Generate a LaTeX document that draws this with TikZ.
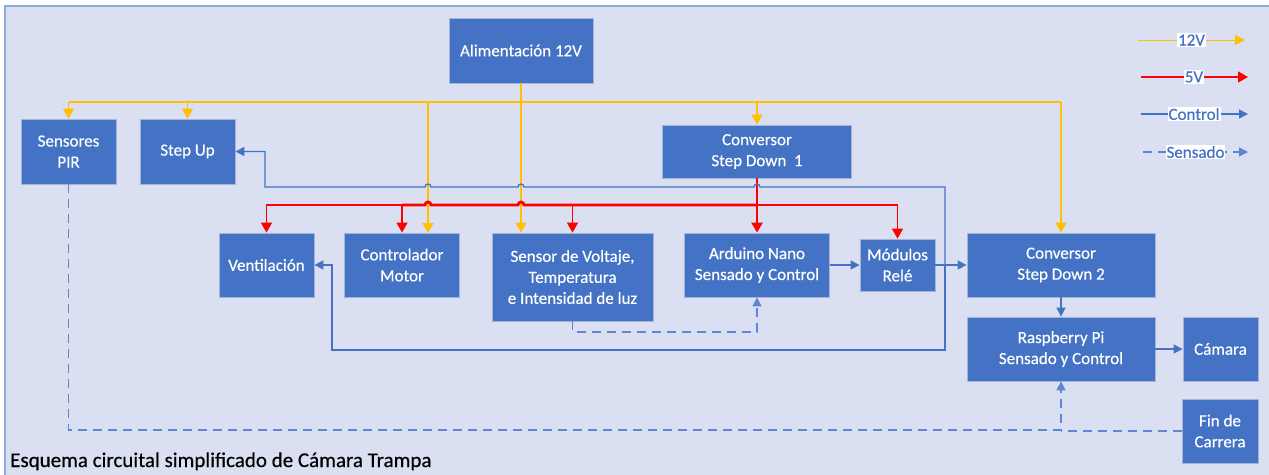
\documentclass[tikz,border=0pt]{standalone}
\usepackage{fontspec}
\setmainfont{Carlito}
\newfontfamily\heavyfont[FakeBold=0.35]{Carlito}
\usetikzlibrary{arrows.meta}
\definecolor{bg}{HTML}{DAE0F2}
\definecolor{frameb}{HTML}{8FAADC}
\definecolor{boxfill}{HTML}{4472C4}
\definecolor{boxline}{HTML}{A3B4DA}
\definecolor{ylw}{HTML}{FFC000}
\definecolor{rd}{HTML}{FF0000}
\definecolor{ctlc}{HTML}{4472C4}
\definecolor{senc}{HTML}{5F86D0}
\begin{document}
\begin{tikzpicture}[x=1pt,y=-1pt,
 blk/.style={draw=boxline,line width=0.8pt,fill=boxfill,text=white,font=\heavyfont\fontsize{17}{21}\selectfont,align=center,inner sep=0pt},
 yl/.style={draw=ylw,line width=1.5pt},
 ya/.style={yl,-{Triangle[length=10pt,width=11pt]}},
 r5/.style={draw=rd,line width=1.5pt},
 ra/.style={r5,-{Triangle[length=10pt,width=11pt]}},
 ct/.style={draw=ctlc,line width=1.3pt},
 ca/.style={ct,-{Triangle[length=9pt,width=9pt]}},
 sn/.style={draw=senc,line width=1.5pt,dash pattern=on 9pt off 6pt},
 sa/.style={sn,-{Triangle[length=9pt,width=9pt]}},
 leg/.style={fill=white,text=ctlc,font=\heavyfont\fontsize{17}{20}\selectfont,inner sep=1pt}
]
\useasboundingbox (0,0) rectangle (1269,474);
\fill[white] (0,0) rectangle (1269,474);
\draw[fill=bg,draw=frameb,line width=2pt] (5,6) rectangle (1285,495);

% boxes
\node[blk,minimum width=144pt,minimum height=65pt] (ali) at (521,50.5) {Alimentación 12V};
\node[blk,minimum width=95pt,minimum height=65pt] (pir) at (68.5,151.5) {Sensores\\PIR};
\node[blk,minimum width=95pt,minimum height=65pt] (stepup) at (187.5,151.5) {Step Up};
\node[blk,minimum width=189pt,minimum height=53pt] (sd1) at (757,151.5) {Conversor\\Step Down\ \ 1};
\node[blk,minimum width=95pt,minimum height=64pt] (vent) at (266.5,265) {Ventilación};
\node[blk,minimum width=115pt,minimum height=64pt] (ctrl) at (402,265) {Controlador\\Motor};
\node[blk,minimum width=161pt,minimum height=88pt] (sensor) at (572.5,277) {Sensor de Voltaje,\\Temperatura\\e Intensidad de luz};
\node[blk,minimum width=145pt,minimum height=64pt] (ard) at (757,265) {Arduino Nano\\Sensado y Control};
\node[blk,minimum width=75pt,minimum height=52pt] (rele) at (897.5,265) {Módulos\\Relé};
\node[blk,minimum width=188pt,minimum height=64pt] (sd2) at (1061,265) {Conversor\\Step Down 2};
\node[blk,minimum width=188pt,minimum height=64pt] (rpi) at (1061,349) {Raspberry Pi\\Sensado y Control};
\node[blk,minimum width=75pt,minimum height=64pt] (cam) at (1220.5,349) {Cámara};
\node[blk,minimum width=76pt,minimum height=64pt] (fin) at (1220,431) {Fin de\\Carrera};

% 12V lines
\draw[yl] (68.5,102) -- (1061,102);
\draw[ya] (ali.south) -- (ali.south |- sensor.north);
\draw[ya] (68.5,102) -- (pir.north);
\draw[ya] (187.5,102) -- (stepup.north);
\draw[ya] (428,102) -- (428,233);
\draw[ya] (757,102) -- (sd1.north);
\draw[ya] (1061,102) -- (sd2.north);

% 5V lines
\draw[r5,line width=2.8pt] (757,205) -- (524,205) arc[start angle=0,end angle=180,radius=3pt]
  -- (431,205) arc[start angle=0,end angle=180,radius=3pt] -- (402,205);
\draw[ra,line width=2.6pt] (sd1.south) -- (ard.north);
\draw[ra] (402,205) -- (266.5,205) -- (vent.north);
\draw[ra] (402,205) -- (ctrl.north);
\draw[ra] (572.5,205) -- (sensor.north);
\draw[ra] (757,205) -- (897.5,205) -- (rele.north);

% control lines
\coordinate (bj) at (945,265);
\draw[ca] (ard.east) -- (rele.west);
\draw[ca] (rele.east) -- (sd2.west);
\draw[ca] (sd2.south) -- (rpi.north);
\draw[ca] (rpi.east) -- (cam.west);
\draw[ca] (bj) -- (945,187) -- (760,187) arc[start angle=0,end angle=180,radius=3pt]
  -- (524,187) arc[start angle=0,end angle=180,radius=3pt]
  -- (431,187) arc[start angle=0,end angle=180,radius=3pt]
  -- (265,187) -- (265,151.5) -- (stepup.east);
\draw[ca] (bj) -- (945,350) -- (332,350) -- (332,265) -- (vent.east);

% sensing lines
\draw[sa] (pir.south) -- (68.5,430) -- (1061,430) -- (rpi.south);
\draw[sn] (fin.west) -- (1061,431);
\draw[sa] (sensor.south) -- (572.5,332) -- (757,332) -- (ard.south);

% legend
\coordinate (l1a) at (1138,40); \coordinate (l1b) at (1245,40);
\coordinate (l2a) at (1141,77); \coordinate (l2b) at (1248,77);
\coordinate (l3a) at (1141,114); \coordinate (l3b) at (1248,114);
\coordinate (l4a) at (1143,152); \coordinate (l4b) at (1248,152);
\draw[draw=ylw,line width=1pt,-{Triangle[length=10pt,width=10pt]}] (l1a) -- (l1b);
\draw[ra,line width=1.5pt] (l2a) -- (l2b);
\draw[ca] (l3a) -- (l3b);
\draw[sa] (l4a) -- (l4b);
\node[leg] (t12) at (1191.5,40) {12V};
\node[leg] (t5) at (1194,77) {5V};
\node[leg] (tc) at (1194,114) {Control};
\node[leg] (ts) at (1195.5,152) {Sensado};

% title
\node[anchor=base west,font=\heavyfont\fontsize{21}{25}\selectfont,text=black,inner sep=0pt] (title) at (10,467) {Esquema circuital simplificado de Cámara Trampa};
\end{tikzpicture}
\end{document}
